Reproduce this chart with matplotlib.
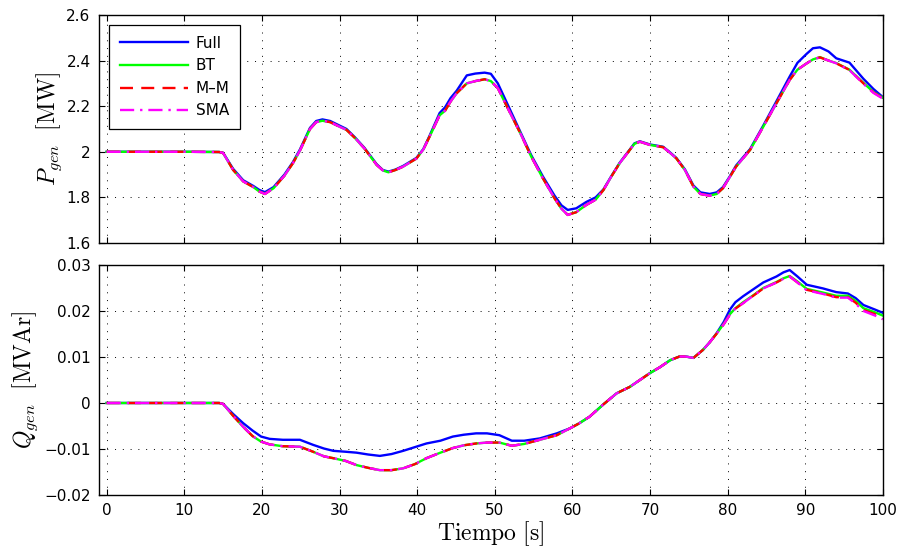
import matplotlib
matplotlib.use("Agg")
import matplotlib.pyplot as plt

plt.rcParams["font.family"] = ["DejaVu Sans"]
plt.rcParams["mathtext.fontset"] = "cm"

# ---------------- Active power (top panel) ----------------
t_p = [0, 10, 14.5, 15.0, 16.3, 17.6, 18.9, 19.7, 20.4, 21.5, 22.9, 24.0, 24.9, 26.2,
       27.0, 27.8, 28.8, 30.0, 30.9, 32.0, 33.2, 34.8, 35.6, 36.3, 37.2, 38.2, 39.9,
       40.8, 41.6, 42.9, 43.6, 44.3, 45.1, 46.4, 47.5, 48.7, 49.5, 50.4, 51.9, 53.4,
       54.7, 56.2, 57.7, 58.6, 59.4, 60.5, 61.8, 63.0, 64.0, 65.0, 66.1, 67.4, 68.0,
       68.7, 70.0, 71.7, 72.6, 73.4, 74.5, 75.6, 76.5, 77.7, 78.6, 79.4, 80.3, 81.1,
       82.9, 84.6, 86.3, 88.0, 89.0, 90.2, 91.0, 91.9, 93.0, 94.0, 95.7, 97.5, 98.8, 100]

p_full = [2.0, 2.0, 1.999, 1.996, 1.925, 1.875, 1.85, 1.832, 1.823, 1.845, 1.9, 1.955, 2.01, 2.105,
          2.135, 2.142, 2.135, 2.115, 2.1, 2.063, 2.018, 1.945, 1.92, 1.913, 1.922, 1.938, 1.973,
          2.012, 2.07, 2.17, 2.195, 2.235, 2.268, 2.335, 2.343, 2.347, 2.342, 2.30, 2.19, 2.08,
          1.985, 1.892, 1.808, 1.765, 1.745, 1.752, 1.78, 1.80, 1.835, 1.892, 1.952, 2.01, 2.037,
          2.046, 2.032, 2.022, 1.997, 1.973, 1.923, 1.852, 1.822, 1.815, 1.822, 1.845, 1.893, 1.94,
          2.012, 2.115, 2.222, 2.33, 2.39, 2.43, 2.454, 2.458, 2.44, 2.41, 2.391, 2.32, 2.275, 2.24]

p_bt = [2.0, 2.0, 1.999, 1.995, 1.92, 1.87, 1.845, 1.825, 1.816, 1.84, 1.895, 1.95, 2.005, 2.1,
        2.13, 2.136, 2.13, 2.11, 2.096, 2.06, 2.015, 1.942, 1.918, 1.91, 1.92, 1.935, 1.97,
        2.01, 2.066, 2.16, 2.18, 2.22, 2.257, 2.30, 2.31, 2.318, 2.31, 2.279, 2.176, 2.074,
        1.979, 1.884, 1.796, 1.75, 1.724, 1.735, 1.767, 1.79, 1.832, 1.89, 1.95, 2.008, 2.035,
        2.044, 2.03, 2.02, 1.995, 1.971, 1.92, 1.847, 1.815, 1.808, 1.815, 1.84, 1.89, 1.935,
        2.008, 2.11, 2.213, 2.315, 2.36, 2.388, 2.405, 2.415, 2.40, 2.389, 2.36, 2.302, 2.262, 2.237]

p_mm = [2.0, 2.0, 1.999, 1.995, 1.92, 1.87, 1.845, 1.825, 1.815, 1.84, 1.895, 1.95, 2.005, 2.1,
        2.13, 2.136, 2.13, 2.11, 2.096, 2.06, 2.015, 1.942, 1.918, 1.91, 1.92, 1.935, 1.97,
        2.01, 2.066, 2.16, 2.18, 2.22, 2.257, 2.30, 2.31, 2.318, 2.31, 2.279, 2.176, 2.074,
        1.979, 1.884, 1.796, 1.75, 1.723, 1.735, 1.767, 1.79, 1.832, 1.89, 1.95, 2.008, 2.035,
        2.044, 2.03, 2.02, 1.995, 1.971, 1.92, 1.847, 1.815, 1.807, 1.815, 1.84, 1.89, 1.935,
        2.008, 2.11, 2.213, 2.315, 2.36, 2.388, 2.405, 2.414, 2.40, 2.388, 2.359, 2.30, 2.26, 2.235]

p_sma = [2.0, 2.0, 1.999, 1.995, 1.92, 1.87, 1.845, 1.825, 1.815, 1.84, 1.895, 1.95, 2.005, 2.1,
         2.13, 2.136, 2.13, 2.11, 2.096, 2.06, 2.015, 1.942, 1.918, 1.91, 1.92, 1.935, 1.97,
         2.01, 2.066, 2.16, 2.18, 2.22, 2.257, 2.30, 2.31, 2.318, 2.31, 2.279, 2.176, 2.074,
         1.979, 1.884, 1.796, 1.75, 1.723, 1.735, 1.767, 1.79, 1.832, 1.89, 1.95, 2.008, 2.035,
         2.044, 2.03, 2.02, 1.995, 1.971, 1.92, 1.847, 1.815, 1.807, 1.815, 1.84, 1.89, 1.935,
         2.008, 2.11, 2.213, 2.315, 2.36, 2.388, 2.405, 2.414, 2.40, 2.388, 2.358, 2.298, 2.258, 2.233]

# ---------------- Reactive power (bottom panel) ----------------
t_q = [0, 10, 14.5, 15.0, 16.3, 17.6, 18.8, 19.9, 21.0, 22.7, 24.9, 26.6, 28.0, 29.2,
       30.8, 32.2, 33.7, 35.2, 36.7, 38.2, 39.7, 41.2, 43.0, 44.6, 46.0, 47.6, 49.0,
       50.6, 52.2, 53.8, 55.8, 58.0, 59.7, 60.8, 62.2, 64.0, 65.7, 67.4, 68.7, 70.0,
       71.3, 72.6, 73.8, 74.6, 75.6, 76.8, 77.7, 78.6, 79.5, 80.3, 81.0, 82.0, 83.3, 84.6,
       86.3, 87.2, 88.0, 89.0, 90.2, 92.3, 94.0, 95.5, 96.5, 97.5, 99.0, 100]

q_full = [0.0, 0.0, 0.0, -0.0002, -0.0024, -0.0044, -0.006, -0.0073, -0.0078, -0.008, -0.008,
          -0.0091, -0.0099, -0.0104, -0.0106, -0.0108, -0.0112, -0.0115, -0.0111, -0.0104,
          -0.0096, -0.0088, -0.0082, -0.0073, -0.0069, -0.0066, -0.0066, -0.007, -0.0082,
          -0.0082, -0.0077, -0.0066, -0.0055, -0.0045, -0.003, -0.0003, 0.0021, 0.0035, 0.005,
          0.0065, 0.0078, 0.0093, 0.0101, 0.0101, 0.0098, 0.0115, 0.0132, 0.0152, 0.0176,
          0.0203, 0.0219, 0.0232, 0.0247, 0.0262, 0.0275, 0.0284, 0.0289, 0.0275, 0.0257, 0.0249,
          0.0241, 0.0238, 0.0228, 0.0213, 0.0203, 0.0196]

q_bt = [0.0, 0.0, 0.0, -0.0002, -0.0028, -0.0052, -0.0072, -0.0084, -0.009, -0.0094, -0.0095,
        -0.0106, -0.0116, -0.012, -0.0126, -0.0135, -0.0141, -0.0146, -0.0146, -0.0142,
        -0.0133, -0.012, -0.0108, -0.0098, -0.0092, -0.0088, -0.0086, -0.0086, -0.0093,
        -0.0089, -0.008, -0.007, -0.0055, -0.0045, -0.003, -0.0003, 0.0021, 0.0035, 0.005,
        0.0065, 0.0078, 0.0093, 0.0101, 0.0101, 0.0098, 0.0115, 0.0132, 0.0151, 0.0172,
        0.0193, 0.0206, 0.0219, 0.0234, 0.025, 0.0263, 0.0271, 0.0276, 0.0264, 0.0248, 0.024,
        0.0233, 0.0233, 0.0222, 0.0206, 0.0197, 0.019]

q_mm = [0.0, 0.0, 0.0, -0.0002, -0.0028, -0.0052, -0.0072, -0.0084, -0.009, -0.0094, -0.0095,
        -0.0106, -0.0116, -0.012, -0.0126, -0.0135, -0.0141, -0.0146, -0.0146, -0.0142,
        -0.0133, -0.012, -0.0108, -0.0098, -0.0092, -0.0088, -0.0086, -0.0086, -0.0093,
        -0.0089, -0.008, -0.007, -0.0055, -0.0045, -0.003, -0.0003, 0.0021, 0.0035, 0.005,
        0.0065, 0.0078, 0.0093, 0.0101, 0.0101, 0.0098, 0.0115, 0.0132, 0.0151, 0.0171,
        0.0192, 0.0205, 0.0217, 0.0233, 0.0249, 0.0262, 0.027, 0.0275, 0.0262, 0.0246, 0.0238,
        0.023, 0.023, 0.0218, 0.0202, 0.0193, 0.0185]

q_sma = [0.0, 0.0, 0.0, -0.0002, -0.0028, -0.0052, -0.0072, -0.0084, -0.009, -0.0094, -0.0095,
         -0.0106, -0.0116, -0.012, -0.0126, -0.0135, -0.0141, -0.0146, -0.0146, -0.0142,
         -0.0133, -0.012, -0.0108, -0.0098, -0.0092, -0.0088, -0.0086, -0.0086, -0.0093,
         -0.0089, -0.008, -0.007, -0.0055, -0.0045, -0.003, -0.0003, 0.0021, 0.0035, 0.005,
         0.0065, 0.0078, 0.0093, 0.0101, 0.0101, 0.0098, 0.0115, 0.0132, 0.0151, 0.0171,
         0.0192, 0.0205, 0.0217, 0.0233, 0.0249, 0.0262, 0.027, 0.0275, 0.0262, 0.0245, 0.0237,
         0.0229, 0.0229, 0.0216, 0.02, 0.019, 0.0182]

labels = ["Full", "BT", "M\u2013M", "SMA"]
colors = ["#0000ff", "#00ff00", "#ff0000", "#ff00ff"]
styles = ["-", "-", (0, (5.5, 3.5)), (0, (6, 2.5, 1, 2.5))]

x_ticks = list(range(0, 101, 10))
p_ticks = [1.6, 1.8, 2.0, 2.2, 2.4, 2.6]
p_ticklabels = ["1.6", "1.8", "2", "2.2", "2.4", "2.6"]
q_ticks = [-0.02, -0.01, 0.0, 0.01, 0.02, 0.03]
q_ticklabels = ["\u22120.02", "\u22120.01", "0", "0.01", "0.02", "0.03"]

fig = plt.figure(figsize=(8.99, 5.54), dpi=100)
ax1 = fig.add_axes([0.110, 0.5614, 0.872, 0.4116])
ax2 = fig.add_axes([0.110, 0.1065, 0.872, 0.4152])


def style_axes(ax):
    ax.set_xlim(-1, 100)
    ax.set_xticks(x_ticks)
    ax.grid(True, color="black", linestyle=(0, (1, 7)), linewidth=0.7)
    ax.tick_params(direction="in", top=True, right=True, length=4.5, width=0.8,
                   labelsize=11, pad=6)
    for s in ax.spines.values():
        s.set_linewidth(1.0)
    ax.set_axisbelow(True)


series_p = [p_full, p_bt, p_mm, p_sma]
series_q = [q_full, q_bt, q_mm, q_sma]
for vals, lab, c, ls in zip(series_p, labels, colors, styles):
    ax1.plot(t_p, vals, color=c, linestyle=ls, linewidth=1.7, label=lab)
for vals, c, ls in zip(series_q, colors, styles):
    ax2.plot(t_q, vals, color=c, linestyle=ls, linewidth=1.7)

style_axes(ax1)
ax1.set_ylim(1.6, 2.6)
ax1.set_yticks(p_ticks)
ax1.set_yticklabels(p_ticklabels)
ax1.set_xticklabels([])
ax1.set_ylabel(r"$P_{gen}\ \ [\mathrm{MW}]$", fontsize=17, labelpad=2)

style_axes(ax2)
ax2.set_ylim(-0.02, 0.03)
ax2.set_yticks(q_ticks)
ax2.set_yticklabels(q_ticklabels)
ax2.set_xticklabels([str(v) for v in x_ticks])
ax2.set_ylabel(r"$Q_{gen}\ \ [\mathrm{MVAr}]$", fontsize=17, labelpad=3)
ax2.set_xlabel(r"$\mathrm{Tiempo\ [s]}$", fontsize=17, labelpad=1)

leg = ax1.legend(loc="upper left", fontsize=11, frameon=True, fancybox=False,
                 framealpha=1, edgecolor="black", handlelength=4.5,
                 handletextpad=0.5, labelspacing=0.5, borderpad=0.7,
                 borderaxespad=0.65)
leg.get_frame().set_linewidth(0.9)

fig.savefig("out.png", dpi=100)
